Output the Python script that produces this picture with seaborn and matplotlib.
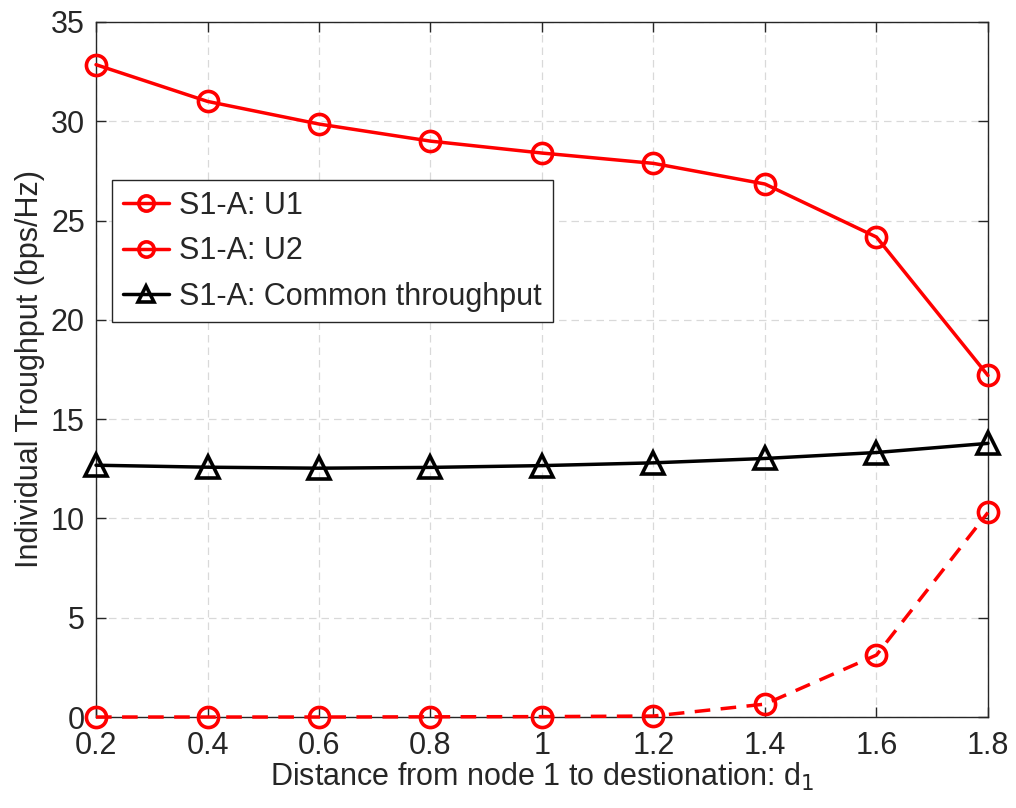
import numpy as np
import pandas as pd
import matplotlib
matplotlib.use("Agg")
import matplotlib.pyplot as plt
import seaborn as sns

# distance from node 1 to destination
d1 = [0.2, 0.4, 0.6, 0.8, 1.0, 1.2, 1.4, 1.6, 1.8]
u1 = [32.85, 31.0, 29.86, 29.0, 28.4, 27.88, 26.84, 24.17, 17.2]
u2 = [0.0, 0.0, 0.0, 0.01, 0.02, 0.05, 0.65, 3.12, 10.3]
common = [12.68, 12.58, 12.53, 12.57, 12.66, 12.8, 13.02, 13.32, 13.78]

series_names = ["S1-A: U1", "S1-A: U2", "S1-A: Common throughput"]
x_ticks = [0.2, 0.4, 0.6, 0.8, 1.0, 1.2, 1.4, 1.6, 1.8]
x_tick_labels = ["0.2", "0.4", "0.6", "0.8", "1", "1.2", "1.4", "1.6", "1.8"]
y_ticks = [0, 5, 10, 15, 20, 25, 30, 35]

sns.set_theme(style="white")
plt.rcParams["font.family"] = ["Liberation Sans", "DejaVu Sans"]

fig = plt.figure(figsize=(10.16, 8.08), dpi=100)
ax = fig.add_axes([0.0945, 0.1126, 0.8779, 0.8602])

df = pd.DataFrame({"d1": d1, "u1": u1, "u2": u2, "common": common})

styles = [
    ("u1", "#ff0000", "-", "o", 14.5),
    ("u2", "#ff0000", (0, (4.5, 3.0)), "o", 14.5),
    ("common", "black", "-", "^", 16.5),
]
for (col, color, ls, mk, ms), name in zip(styles, series_names):
    sns.lineplot(data=df, x="d1", y=col, ax=ax, color=color, linestyle=ls,
                 marker=mk, markersize=ms,
                 markerfacecolor="none", markeredgecolor=color,
                 markeredgewidth=2.6, linewidth=2.5, label=name,
                 clip_on=False, zorder=3)

ax.set_xlim(0.2, 1.8)
ax.set_ylim(0, 35)
ax.set_xticks(x_ticks)
ax.set_xticklabels(x_tick_labels)
ax.set_yticks(y_ticks)

ax.grid(True, color="#d9d9d9", linestyle=(0, (6, 4)), linewidth=0.9)
ax.set_axisbelow(True)
for sp in ax.spines.values():
    sp.set_color("#262626")
    sp.set_linewidth(1.0)
    sp.set_visible(True)

ax.tick_params(axis="both", direction="in", length=7, width=1.0,
               colors="#262626", labelsize=22, top=True, right=True,
               left=True, bottom=True)
ax.tick_params(axis="y", pad=8)
ax.tick_params(axis="x", pad=10)

ax.set_xlabel("Distance from node 1 to destionation: d$_1$",
              fontsize=22, color="#262626", labelpad=0)
ax.set_ylabel("Individual Troughput (bps/Hz)", fontsize=22,
              color="#262626", labelpad=4)

leg = ax.legend(loc="upper left", bbox_to_anchor=(0.018, 0.772),
                fontsize=22, frameon=True, fancybox=False,
                edgecolor="#262626", framealpha=1, handlelength=1.5,
                handletextpad=0.35, borderpad=0.35, labelspacing=0.5,
                borderaxespad=0)
leg.get_frame().set_linewidth(1.0)
for h in leg.legend_handles:
    h.set_markersize(11)
    h.set_linestyle("-")

fig.savefig("out.png", dpi=100)
